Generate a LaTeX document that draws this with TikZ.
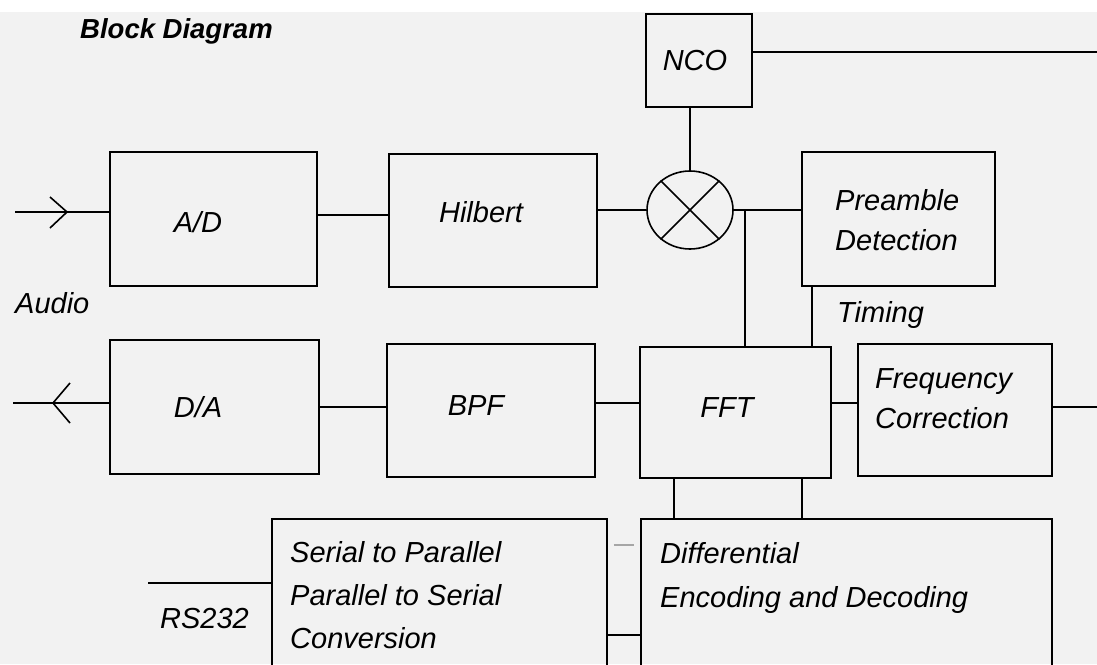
\documentclass[tikz,border=0pt]{standalone}
\usepackage{fontspec}
\setmainfont{Liberation Sans}
\usetikzlibrary{fit,calc,shapes.geometric}
\begin{document}
\begin{tikzpicture}[x=1pt,y=-1pt,
 blk/.style={draw, line width=1.6pt, inner sep=0pt},
 lbl/.style={inner sep=0pt, font=\fontsize{29}{42}\selectfont\itshape, anchor=base},
 lbll/.style={lbl, anchor=base west, align=left},
 wire/.style={line width=1.6pt},
 faint/.style={line width=1.4pt, black!35}]
\clip (0,0) rectangle (1097,664);
\fill[white] (0,0) rectangle (1097,664);
\fill[black!5] (0,12) rectangle (1097,664);

% title
\node[lbl, anchor=base west, font=\fontsize{27.5}{30}\selectfont\bfseries\itshape] (title) at (80,38) {Block Diagram};

% boxes
\node[blk, fit={(110,152)(317,286)}] (ad) {};
\node[blk, fit={(389,154)(597,287)}] (hil) {};
\node[blk, fit={(646,14)(752,107)}] (nco) {};
\node[blk, fit={(802,152)(995,286)}] (pre) {};
\node[blk, ellipse, minimum width=86pt, minimum height=78pt] (mix) at (690,210) {};
\draw[wire] (mix.45) -- (mix.225);
\draw[wire] (mix.135) -- (mix.-45);
\node[blk, fit={(110,340)(319,474)}] (da) {};
\node[blk, fit={(387,344)(595,477)}] (bpf) {};
\node[blk, fit={(640,347)(831,478)}] (fft) {};
\node[blk, fit={(858,344)(1052,476)}] (frq) {};
\node[blk, fit={(272,519)(607,720)}] (ser) {};
\node[blk, fit={(641,519)(1052,720)}] (dif) {};

% labels
\node[lbl] (adt) at (198,232) {A/D};
\node[lbl] (hilt) at (481,222) {Hilbert};
\node[lbl] (ncot) at (695,70) {NCO};
\node[lbll] (pret) at (835,210) {Preamble};
\node[lbll] (pret2) at (835,250) {Detection};
\node[lbll] (audio) at (15,313) {Audio};
\node[lbll] (timing) at (837,322) {Timing};
\node[lbl] (dat) at (198,417) {D/A};
\node[lbl] (bpft) at (476,415) {BPF};
\node[lbl] (fftt) at (727,417) {FFT};
\node[lbll] (frqt) at (875,388) {Frequency};
\node[lbll] (frqt2) at (875,428) {Correction};
\node[lbll] (rs) at (160,628) {RS232};
\node[lbll] (sert) at (290,562) {Serial to Parallel};
\node[lbll] (sert2) at (290,605) {Parallel to Serial};
\node[lbll] (sert3) at (290,648) {Conversion};
\node[lbll] (dift) at (660,563) {Differential};
\node[lbll] (dift2) at (660,607) {Encoding and Decoding};

% connectors
\coordinate (inL) at (15,212);
\draw[wire] (inL) -- (inL -| ad.west);
\draw[wire] ($(inL)+(35,-15)$) -- ($(inL)+(52,0)$) -- ($(inL)+(35,16)$);
\coordinate (outL) at (13,403);
\draw[wire] (da.west |- outL) -- (outL);
\draw[wire] ($(outL)+(57,-20)$) -- ($(outL)+(40,0)$) -- ($(outL)+(57,20)$);

\draw[wire] (ad.east |- 0,215) -- (hil.west |- 0,215);
\draw[wire] (hil.east |- mix.west) -- (mix.west);
\draw[wire] (mix.north) -- (mix.north |- nco.south);
\coordinate (ncoR) at (1097,52);
\draw[wire] (nco.east |- ncoR) -- (ncoR);
\draw[wire] (mix.east) -- (pre.west |- mix.east);
\coordinate (j1) at (745,210);
\draw[wire] (j1) -- (j1 |- fft.north);
\draw[wire] (pre.south -| 812,0) -- (fft.north -| 812,0);
\draw[wire] (fft.east |- 0,403) -- (frq.west |- 0,403);
\coordinate (frqR) at (1097,407);
\draw[wire] (frq.east |- frqR) -- (frqR);
\draw[wire] (da.east |- 0,407) -- (bpf.west |- 0,407);
\draw[wire] (bpf.east |- 0,403) -- (fft.west |- 0,403);
\draw[wire] (fft.south -| 674,0) -- (dif.north -| 674,0);
\draw[wire] (fft.south -| 802,0) -- (dif.north -| 802,0);
\draw[faint, shorten <=6pt, shorten >=6pt] (ser.east |- 0,545) -- (dif.west |- 0,545);
\draw[wire] (ser.east |- 0,635) -- (dif.west |- 0,635);
\coordinate (rsL) at (148,583);
\draw[wire] (rsL) -- (rsL -| ser.west);
\end{tikzpicture}
\end{document}
